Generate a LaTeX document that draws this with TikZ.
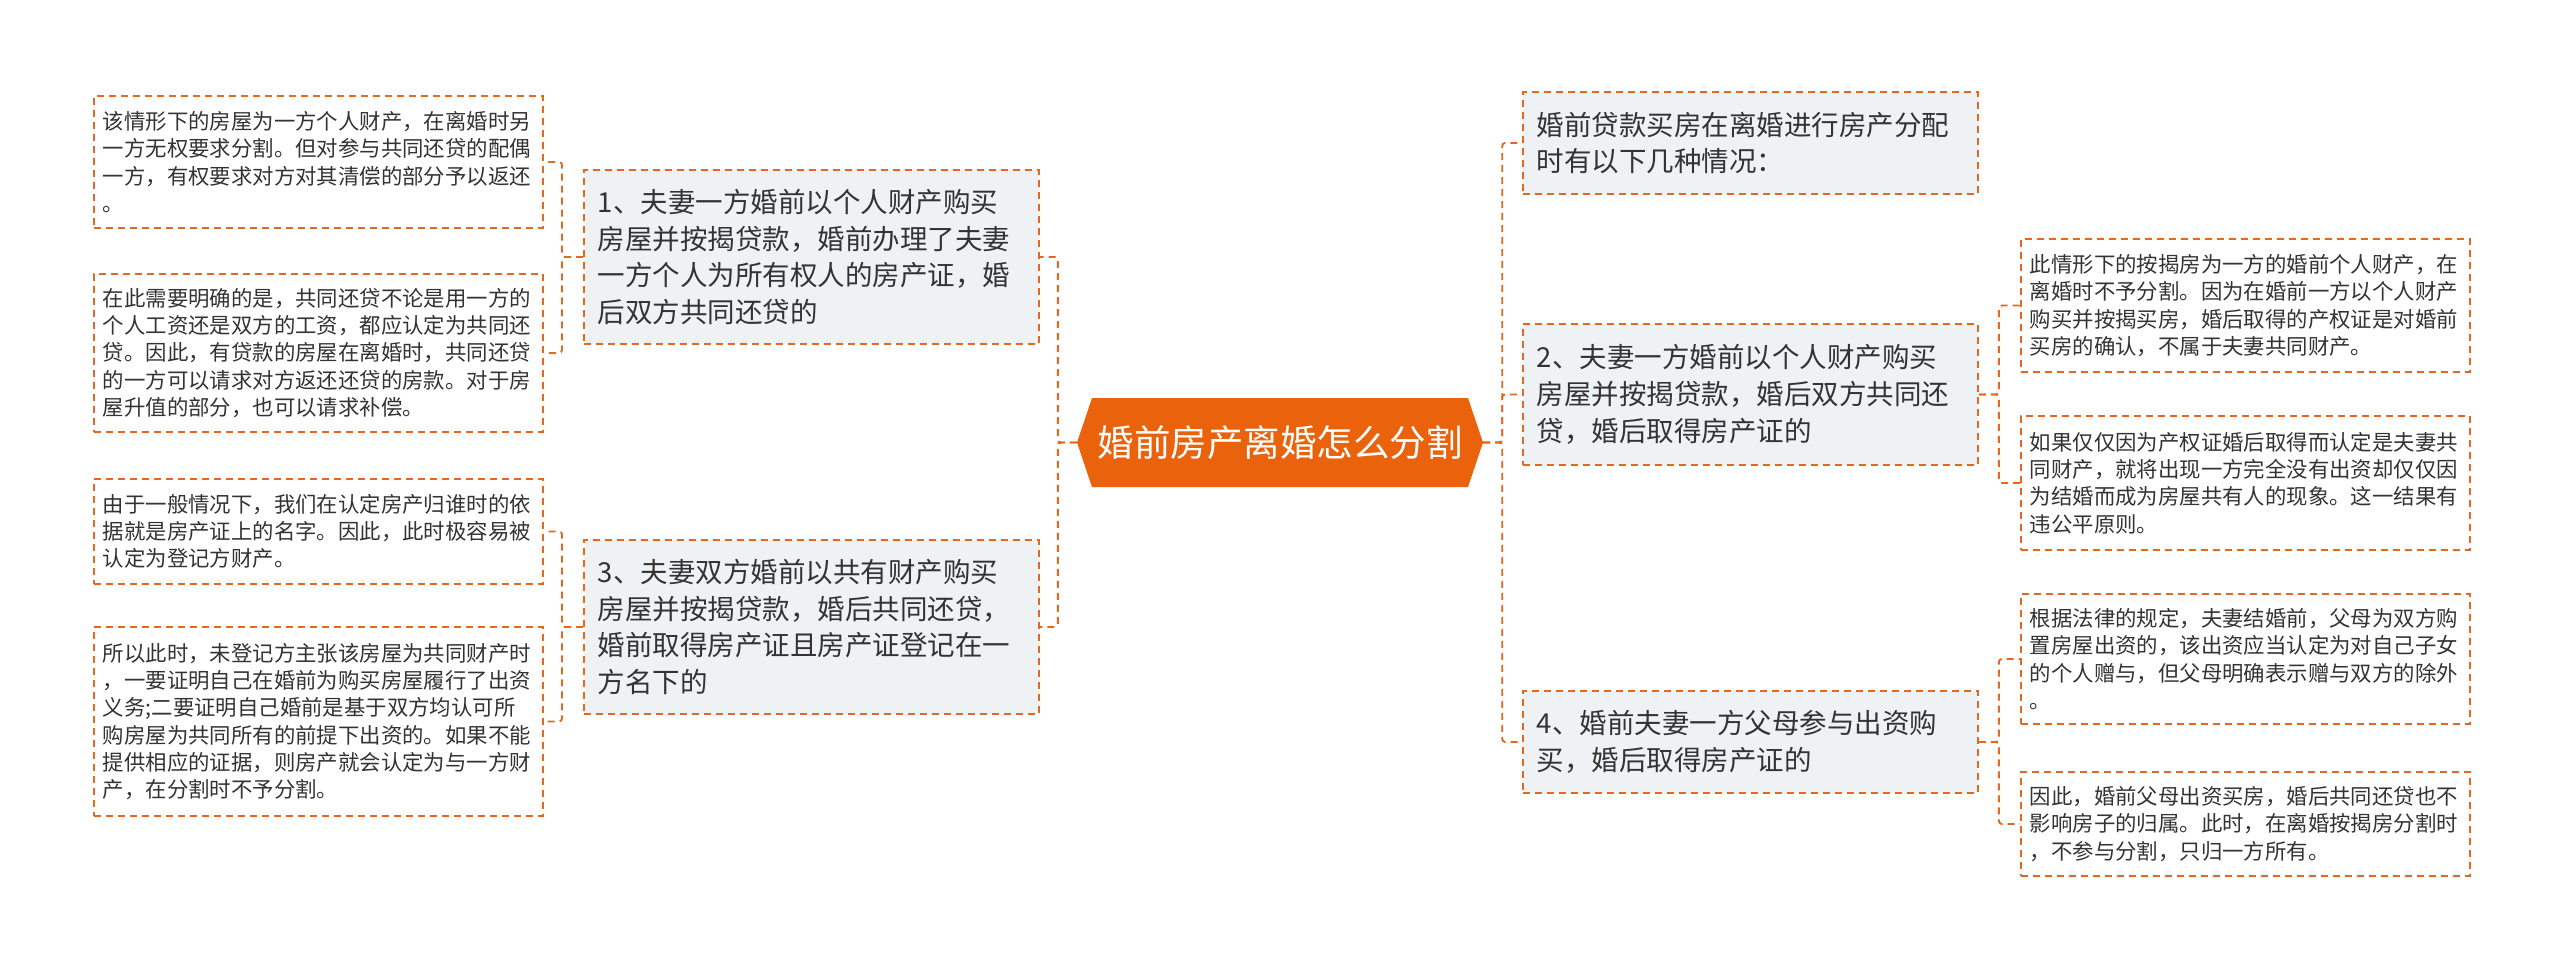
\documentclass[tikz,border=0pt]{standalone}
\usepackage{fontspec}
\setmainfont{Noto Sans CJK SC}
\definecolor{cor}{RGB}{228,104,30}
\definecolor{ccenter}{RGB}{234,99,12}
\definecolor{cfill}{RGB}{239,242,245}
\definecolor{ctext}{RGB}{51,51,51}
\begin{document}
\begin{tikzpicture}[x=1pt,y=-1pt,
  dashline/.style={draw=cor, dash pattern=on 7pt off 5pt, line width=1.9pt},
  leaf/.style={dashline, anchor=north west, inner xsep=9pt, inner ysep=0pt,
    text width=431pt, align=left, text=ctext, font=\fontsize{21.4}{27.3}\selectfont},
  branch/.style={dashline, fill=cfill, anchor=north west, inner xsep=14pt, inner ysep=0pt,
    text width=427pt, align=left, text=ctext, font=\fontsize{27.5}{36.7}\selectfont},
  conn/.style={dashline, rounded corners=3pt}]
\useasboundingbox (0,0) rectangle (2560,967);
\fill[white] (0,0) rectangle (2560,967);

% centre
\node[minimum width=406pt, minimum height=89pt, inner sep=0pt, text=white,
  font=\fontsize{36.5}{40}\selectfont,
  path picture={\fill[ccenter] (path picture bounding box.west)
    -- ([xshift=15pt]path picture bounding box.north west)
    -- ([xshift=-15pt]path picture bounding box.north east)
    -- (path picture bounding box.east)
    -- ([xshift=-15pt]path picture bounding box.south east)
    -- ([xshift=15pt]path picture bounding box.south west) -- cycle;}]
  (C) at (1280,442.5) {婚前房产离婚怎么分割};

% left branches
\node[branch, minimum height=174pt] (B1) at (583,169) {1、夫妻一方婚前以个人财产购买\\房屋并按揭贷款，婚前办理了夫妻\\一方个人为所有权人的房产证，婚\\后双方共同还贷的};
\node[branch, minimum height=174pt] (B3) at (583,539) {3、夫妻双方婚前以共有财产购买\\房屋并按揭贷款，婚后共同还贷，\\婚前取得房产证且房产证登记在一\\方名下的};

% left leaves
\node[leaf, minimum height=132pt] (L1) at (93,95) {该情形下的房屋为一方个人财产，在离婚时另\\一方无权要求分割。但对参与共同还贷的配偶\\一方，有权要求对方对其清偿的部分予以返还\\。};
\node[leaf, minimum height=158pt] (L2) at (93,273) {在此需要明确的是，共同还贷不论是用一方的\\个人工资还是双方的工资，都应认定为共同还\\贷。因此，有贷款的房屋在离婚时，共同还贷\\的一方可以请求对方返还还贷的房款。对于房\\屋升值的部分，也可以请求补偿。};
\node[leaf, minimum height=105pt] (L3) at (93,478) {由于一般情况下，我们在认定房产归谁时的依\\据就是房产证上的名字。因此，此时极容易被\\认定为登记方财产。};
\node[leaf, minimum height=189pt] (L4) at (93,626) {所以此时，未登记方主张该房屋为共同财产时\\，一要证明自己在婚前为购买房屋履行了出资\\义务;二要证明自己婚前是基于双方均认可所\\购房屋为共同所有的前提下出资的。如果不能\\提供相应的证据，则房产就会认定为与一方财\\产，在分割时不予分割。};

% right branches
\node[branch, minimum height=102pt] (T) at (1522,91) {婚前贷款买房在离婚进行房产分配\\时有以下几种情况：};
\node[branch, minimum height=141pt] (B2) at (1522,323) {2、夫妻一方婚前以个人财产购买\\房屋并按揭贷款，婚后双方共同还\\贷，婚后取得房产证的};
\node[branch, minimum height=102pt] (B4) at (1522,690) {4、婚前夫妻一方父母参与出资购\\买，婚后取得房产证的};

% right leaves
\node[leaf, minimum height=133pt] (R1) at (2020,238) {此情形下的按揭房为一方的婚前个人财产，在\\离婚时不予分割。因为在婚前一方以个人财产\\购买并按揭买房，婚后取得的产权证是对婚前\\买房的确认，不属于夫妻共同财产。};
\node[leaf, minimum height=134pt] (R2) at (2020,415) {如果仅仅因为产权证婚后取得而认定是夫妻共\\同财产，就将出现一方完全没有出资却仅仅因\\为结婚而成为房屋共有人的现象。这一结果有\\违公平原则。};
\node[leaf, minimum height=130pt] (R3) at (2020,593) {根据法律的规定，夫妻结婚前，父母为双方购\\置房屋出资的，该出资应当认定为对自己子女\\的个人赠与，但父母明确表示赠与双方的除外\\。};
\node[leaf, minimum height=104pt] (R4) at (2020,771) {因此，婚前父母出资买房，婚后共同还贷也不\\影响房子的归属。此时，在离婚按揭房分割时\\，不参与分割，只归一方所有。};

% connectors
\draw[conn] (C.west) -- ++(-19,0) |- (B1.east);
\draw[conn] (C.west) -- ++(-19,0) |- (B3.east);
\draw[conn] (B1.west) -- ++(-21,0) |- (L1.east);
\draw[conn] (B1.west) -- ++(-21,0) |- (L2.east);
\draw[conn] (B3.west) -- ++(-21,0) |- (L3.east);
\draw[conn] (B3.west) -- ++(-21,0) |- (L4.east);
\draw[conn] (C.east) -- ++(19,0) |- (T.west);
\draw[conn] (C.east) -- ++(19,0) |- (B2.west);
\draw[conn] (C.east) -- ++(19,0) |- (B4.west);
\draw[conn] (B2.east) -- ++(20,0) |- (R1.west);
\draw[conn] (B2.east) -- ++(20,0) |- (R2.west);
\draw[conn] (B4.east) -- ++(20,0) |- (R3.west);
\draw[conn] (B4.east) -- ++(20,0) |- (R4.west);
\end{tikzpicture}
\end{document}
